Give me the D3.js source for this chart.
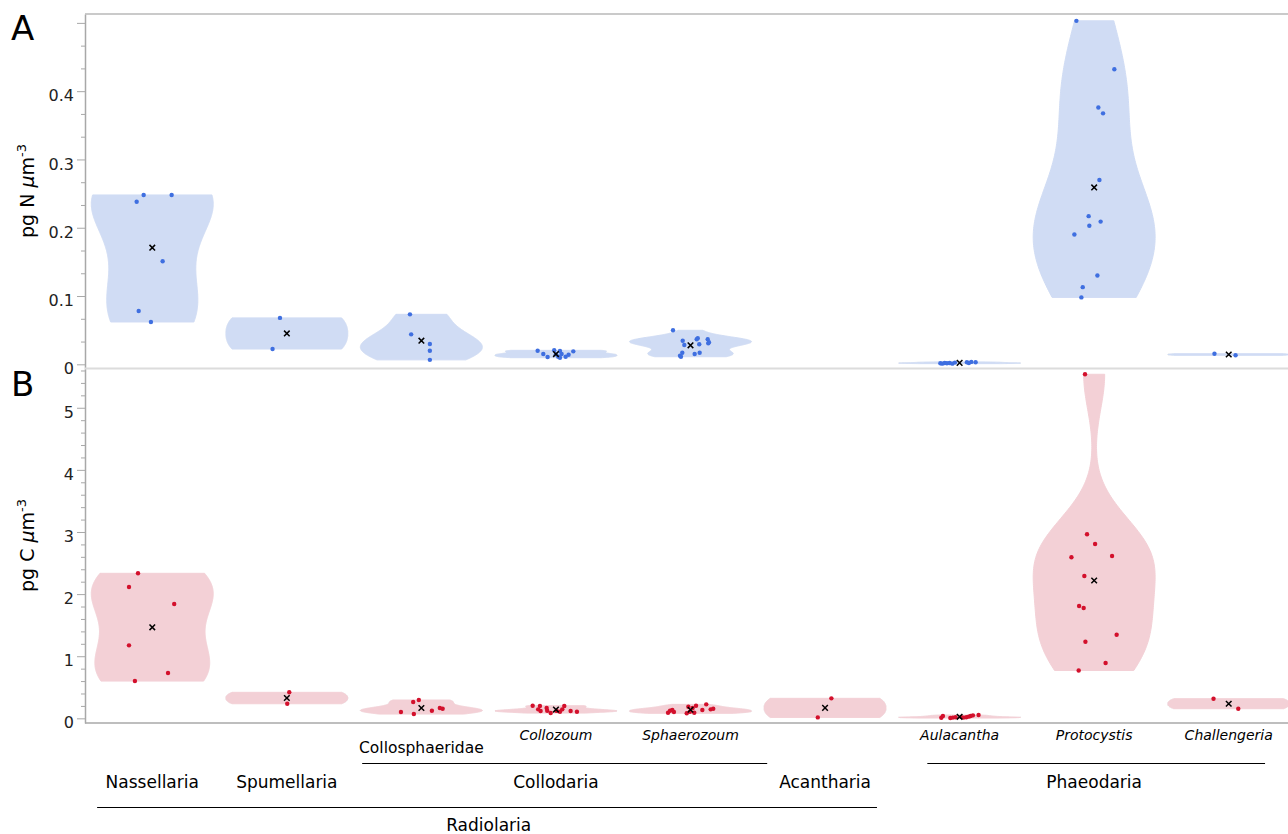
<!DOCTYPE html>
<html>
<head>
<meta charset="utf-8">
<script src="https://cdn.jsdelivr.net/npm/d3@7"></script>
<style>
  body { margin: 0; background: #fff; }
  svg { display: block; font-family: "DejaVu Sans", Verdana, sans-serif; }
</style>
</head>
<body>
<svg id="chart" width="1288" height="834"></svg>
<script>
// ---- data ---------------------------------------------------------------
const categories = ["Nassellaria", "Spumellaria", "Collosphaeridae", "Collozoum",
  "Sphaerozoum", "Acantharia", "Aulacantha", "Protocystis", "Challengeria"];

// genus names are set in italics
const genusNames = ["Collozoum", "Sphaerozoum", "Aulacantha", "Protocystis", "Challengeria"];
const groupNames = ["Collodaria", "Phaeodaria"];
const groupMembers = [
  ["Collosphaeridae", "Collozoum", "Sphaerozoum"],
  ["Aulacantha", "Protocystis", "Challengeria"]
];
const superGroupName = "Radiolaria";
const superGroupMembers = ["Nassellaria", "Spumellaria", "Collosphaeridae", "Collozoum",
  "Sphaerozoum", "Acantharia"];

// nitrogen density, pg N per cubic micrometre (one array per category)
const nitrogenValues = [
  [0.248, 0.248, 0.238, 0.151, 0.078, 0.062],
  [0.068, 0.0224],
  [0.0732, 0.0439, 0.0297, 0.0199, 0.0065],
  [0.0199, 0.0151, 0.0107, 0.0205, 0.0146, 0.0111, 0.0195, 0.0151, 0.0097, 0.0111, 0.0141, 0.019],
  [0.0498, 0.0346, 0.0283, 0.0366, 0.0381, 0.0293, 0.0366, 0.0322, 0.0307, 0.017, 0.0126, 0.0111, 0.0151, 0.017],
  [],
  [0.0015, 0.001, 0.002, 0.0015, 0.002, 0.001, 0.0025, 0.003, 0.002, 0.0035, 0.003],
  [0.503, 0.432, 0.376, 0.3675, 0.270, 0.217, 0.209, 0.203, 0.190, 0.130, 0.113, 0.098],
  [0.0155, 0.0132]
];
// horizontal jitter of each point, as a fraction of the category width
const nitrogenJitter = [
  [-0.064, 0.144, -0.116, 0.077, -0.101, -0.010],
  [-0.051, -0.106],
  [-0.085, -0.076, 0.063, 0.063, 0.063],
  [-0.136, -0.094, -0.062, -0.013, 0, 0.017, 0.030, 0.042, 0.030, 0.072, 0.094, 0.129],
  [-0.130, -0.058, -0.046, 0.046, 0.054, 0.065, 0.128, 0.137, 0.132, -0.061, -0.078, -0.071, 0.031, 0.068],
  [],
  [-0.143, -0.129, -0.111, -0.094, -0.074, -0.054, -0.035, 0.054, 0.069, 0.087, 0.119],
  [-0.132, 0.150, 0.031, 0.066, 0.039, -0.041, 0.048, -0.036, -0.147, 0.024, -0.085, -0.095],
  [-0.106, 0.051]
];

// carbon density, pg C per cubic micrometre
const carbonValues = [
  [2.335, 2.114, 1.840, 1.175, 0.729, 0.60],
  [0.419, 0.235],
  [0.262, 0.295, 0.101, 0.069, 0.122, 0.166, 0.155],
  [0.203, 0.198, 0.145, 0.118, 0.166, 0.122, 0.085, 0.12, 0.106, 0.145, 0.198, 0.118, 0.106],
  [0.090, 0.122, 0.134, 0.101, 0.081, 0.187, 0.106, 0.166, 0.090, 0.203, 0.134, 0.225, 0.145, 0.155],
  [0.322, 0.015],
  [0.01, 0.037, 0.005, 0.012, 0.018, 0.02, 0.012, 0.018, 0.027, 0.037, 0.048, 0.053],
  [5.539, 2.963, 2.807, 2.593, 2.614, 2.291, 1.808, 1.776, 1.346, 1.234, 0.890, 0.77],
  [0.316, 0.155]
];
const carbonJitter = [
  [-0.106, -0.173, 0.163, -0.173, 0.117, -0.129],
  [0.018, 0.003],
  [-0.061, -0.019, -0.152, -0.056, 0.078, 0.137, 0.158],
  [-0.173, -0.119, -0.132, -0.114, -0.069, -0.065, -0.039, 0.005, 0.030, 0.047, 0.062, 0.109, 0.156],
  [-0.167, -0.152, -0.135, -0.123, -0.028, -0.016, -0.004, 0.016, 0.028, 0.041, 0.088, 0.117, 0.150, 0.169],
  [0.047, -0.054],
  [-0.136, -0.124, -0.069, -0.050, -0.030, 0.013, 0.030, 0.050, 0.067, 0.082, 0.099, 0.141],
  [-0.068, -0.053, 0.007, -0.169, 0.133, -0.073, -0.112, -0.078, 0.167, -0.065, 0.085, -0.115],
  [-0.113, 0.071]
];

// axis ticks
const nitrogenTicks = [0, 0.1, 0.2, 0.3, 0.4, 0.5];
const nitrogenTickLabels = ["0", "0.1", "0.2", "0.3", "0.4", ""];
const carbonTicks = [0, 1, 2, 3, 4, 5];
const carbonTickLabels = ["0", "1", "2", "3", "4", "5"];

// ---- layout -------------------------------------------------------------
const svg = d3.select("#chart");
const left = 85, right = 1296;
const x = d3.scaleBand().domain(categories).range([left, right]).padding(0);
const step = x.step();
const cx = c => x(c) + step / 2;
const halfWidth = step * 0.453;
const bandwidthScale = 0.85;

const yN = d3.scaleLinear().domain([-0.0054, 0.513]).range([368, 14]);
const yC = d3.scaleLinear().domain([-0.075, 5.64]).range([723, 368]);

const panels = [
  { letter: "A", letterY: 40, y: yN, values: nitrogenValues, jitter: nitrogenJitter,
    fill: "#d0dcf4", dot: "#3f6fe0", ticks: nitrogenTicks, tickLabels: nitrogenTickLabels,
    minor: d3.range(1, 16).map(i => i * 0.1 / 3), element: "N" },
  { letter: "B", letterY: 396, y: yC, values: carbonValues, jitter: carbonJitter,
    fill: "#f3d0d6", dot: "#d3102c", ticks: carbonTicks, tickLabels: carbonTickLabels,
    minor: d3.range(1, 29).map(i => i * 0.2), element: "C" }
];

// linear quantile (midpoint convention)
function interp(arr, p) {
  let n = p * arr.length - 0.5;
  if (n < 0) return arr[0];
  if (n > arr.length - 1) return arr[arr.length - 1];
  const f = n % 1;
  return f * arr[Math.ceil(n)] + (1 - f) * arr[Math.floor(n)];
}

// Gaussian kernel density over the data span (Silverman bandwidth)
function density(vals) {
  const s = vals.slice().sort(d3.ascending);
  const n = s.length, lo = s[0], hi = s[n - 1], span = hi - lo;
  const sd = d3.deviation(s);
  const iqr = interp(s, 0.75) - interp(s, 0.25);
  let bw = 1.059 * Math.min(sd, iqr / 1.349) * Math.pow(n, -0.2) * bandwidthScale;
  bw = Math.max(bw, span / 100);
  const k = 160;
  const pts = d3.range(k + 1).map(i => {
    const t = lo + span * i / k;
    const d = d3.sum(s, v => Math.exp(-0.5 * ((t - v) / bw) ** 2)) / (n * bw * Math.sqrt(2 * Math.PI));
    return [t, d];
  });
  return { pts, max: d3.max(pts, p => p[1]) };
}

panels.forEach(p => {
  const g = svg.append("g");

  // violins
  categories.forEach((c, i) => {
    const vals = p.values[i];
    if (!vals.length) return;
    const kd = density(vals);
    const area = d3.area()
      .y(d => p.y(d[0]))
      .x0(d => cx(c) - d[1] / kd.max * halfWidth)
      .x1(d => cx(c) + d[1] / kd.max * halfWidth);
    g.append("path").attr("d", area(kd.pts))
      .attr("fill", p.fill).attr("stroke", p.fill).attr("stroke-width", 1);
  });

  // data points
  categories.forEach((c, i) => {
    g.selectAll(null).data(p.values[i].map((v, j) => [v, p.jitter[i][j]]))
      .join("circle")
      .attr("cx", d => cx(c) + d[1] * step)
      .attr("cy", d => p.y(d[0]))
      .attr("r", 2.2)
      .attr("fill", p.dot);
  });

  // means
  categories.forEach((c, i) => {
    const vals = p.values[i];
    if (!vals.length) return;
    g.append("path")
      .attr("transform", `translate(${cx(c)},${p.y(d3.mean(vals))})`)
      .attr("d", "M-2.8,-2.8L2.8,2.8M-2.8,2.8L2.8,-2.8")
      .attr("stroke", "#000").attr("stroke-width", 1.5).attr("fill", "none");
  });

  // left axis: major and minor ticks
  const major = d3.axisLeft(p.y).tickValues(p.ticks).tickSize(8).tickSizeOuter(0)
    .tickFormat((d, i) => p.tickLabels[i]).tickPadding(3);
  const ag = svg.append("g").attr("transform", `translate(${left},0)`).call(major);
  ag.select(".domain").attr("stroke", "#a8a8a8").attr("stroke-width", 1.5);
  ag.selectAll(".tick line").attr("stroke", "#a8a8a8");
  ag.selectAll(".tick text").attr("font-size", 16).attr("fill", "#222")
    .attr("font-family", "DejaVu Sans, sans-serif").attr("dy", "0.6em");

  const minor = d3.axisLeft(p.y).tickValues(p.minor.filter(v => !p.ticks.some(t => Math.abs(t - v) < 1e-9)))
    .tickSize(4).tickFormat("");
  const mg = svg.append("g").attr("transform", `translate(${left},0)`).call(minor);
  mg.select(".domain").remove();
  mg.selectAll(".tick line").attr("stroke", "#a8a8a8");

  // panel letter
  svg.append("text").attr("x", 11).attr("y", p.letterY)
    .attr("font-size", 34).attr("fill", "#000").text(p.letter);

  // axis title: pg X µm^-3
  const mid = (p.y.range()[0] + p.y.range()[1]) / 2;
  const t = svg.append("text")
    .attr("transform", `translate(34,${mid}) rotate(-90)`)
    .attr("text-anchor", "middle").attr("font-size", 19).attr("fill", "#000");
  t.append("tspan").text(`pg ${p.element} `);
  t.append("tspan").attr("font-style", "italic").text("\u03bc");
  t.append("tspan").text("m");
  t.append("tspan").attr("font-size", 13).attr("dy", -8).text("-3");
});

// frame lines
svg.append("line").attr("x1", left).attr("x2", 1288).attr("y1", 14).attr("y2", 14)
  .attr("stroke", "#b8b8b8").attr("stroke-width", 1.5);
svg.append("line").attr("x1", left).attr("x2", 1288).attr("y1", 368.5).attr("y2", 368.5)
  .attr("stroke", "#dcdcdc").attr("stroke-width", 2);
svg.append("line").attr("x1", left).attr("x2", 1288).attr("y1", 723).attr("y2", 723)
  .attr("stroke", "#a8a8a8").attr("stroke-width", 1.5);

// ---- category labels --------------------------------------------------
const labels = svg.append("g").attr("fill", "#000").attr("text-anchor", "middle");
const grouped = groupMembers.flat();

grouped.forEach(c => {
  const genus = genusNames.includes(c);
  labels.append("text")
    .attr("x", cx(c)).attr("y", genus ? 740 : 753)
    .attr("font-size", genus ? 14 : 15.5)
    .attr("font-style", genus ? "italic" : "normal")
    .text(c);
});

// group brackets
const groupSpan = [[2.06, 5.07], [6.26, 8.77]];
groupNames.forEach((name, gi) => {
  const members = groupMembers[gi];
  const [a, b] = groupSpan[gi];
  labels.append("line")
    .attr("x1", left + a * step).attr("x2", left + b * step)
    .attr("y1", 763.5).attr("y2", 763.5)
    .attr("stroke", "#000").attr("stroke-width", 1);
  labels.append("text")
    .attr("x", cx(members[1])).attr("y", 788)
    .attr("font-size", 17).text(name);
});

categories.filter(c => !grouped.includes(c)).forEach(c => {
  labels.append("text").attr("x", cx(c)).attr("y", 788)
    .attr("font-size", 17).text(c);
});

// super group bracket
labels.append("line")
  .attr("x1", left + 0.09 * step).attr("x2", left + 5.886 * step)
  .attr("y1", 807.5).attr("y2", 807.5)
  .attr("stroke", "#000").attr("stroke-width", 1);
labels.append("text")
  .attr("x", left + superGroupMembers.length / 2 * step).attr("y", 831)
  .attr("font-size", 17).text(superGroupName);
</script>
</body>
</html>
